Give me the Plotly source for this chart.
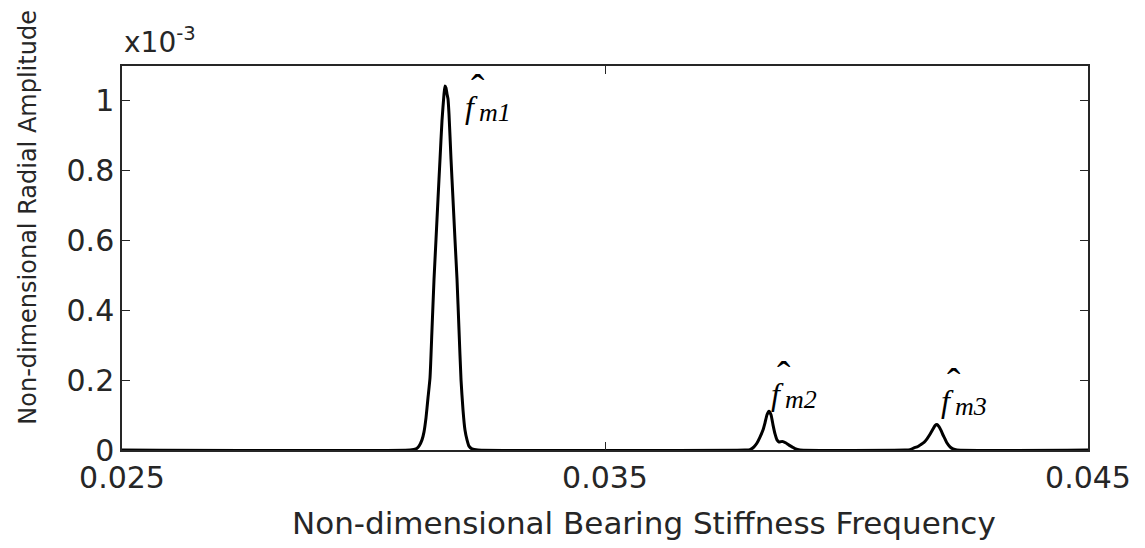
import plotly.graph_objects as go

# ---- data (x: non-dimensional frequency, y: amplitude in units of 1e-3) ----
peak1_x = [0.030963, 0.031087, 0.031149, 0.031211, 0.031253, 0.031294, 0.031335, 0.031377,
           0.031418, 0.031460, 0.031501, 0.031542, 0.031584, 0.031625, 0.031667, 0.031687,
           0.031708, 0.031729, 0.031749, 0.031770, 0.031812, 0.031853, 0.031894, 0.031936,
           0.031977, 0.032019, 0.032060, 0.032101, 0.032143, 0.032184, 0.032246, 0.032371]
peak1_y = [0.0, 0.003, 0.011, 0.029, 0.052, 0.092, 0.149, 0.207,
           0.345, 0.489, 0.603, 0.718, 0.833, 0.943, 1.020, 1.043,
           1.037, 1.020, 1.006, 0.963, 0.833, 0.718, 0.603, 0.489,
           0.345, 0.201, 0.115, 0.057, 0.029, 0.011, 0.003, 0.0]

peak2_x = [0.037899, 0.038002, 0.038085, 0.038147, 0.038209, 0.038271, 0.038313, 0.038354,
           0.038395, 0.038437, 0.038478, 0.038520, 0.038561, 0.038602, 0.038644, 0.038685,
           0.038747, 0.038810, 0.038872, 0.038934, 0.039037]
peak2_y = [0.0, 0.001, 0.009, 0.020, 0.037, 0.057, 0.078, 0.101,
           0.111, 0.101, 0.072, 0.046, 0.029, 0.023, 0.024, 0.024,
           0.020, 0.014, 0.009, 0.004, 0.0]

peak3_x = [0.041211, 0.041315, 0.041398, 0.041480, 0.041542, 0.041605, 0.041667, 0.041729,
           0.041791, 0.041832, 0.041874, 0.041915, 0.041957, 0.041998, 0.042039, 0.042081,
           0.042143, 0.042205, 0.042288]
peak3_y = [0.0, 0.001, 0.006, 0.010, 0.016, 0.022, 0.032, 0.045,
           0.060, 0.070, 0.073, 0.067, 0.056, 0.043, 0.032, 0.020,
           0.009, 0.003, 0.0]

x_start, x_end = [0.025], [0.045]

x_tickvals = [0.025, 0.035, 0.045]
x_ticktext = ["0.025", "0.035", "0.045"]
y_tickvals = [0, 0.2, 0.4, 0.6, 0.8, 1.0]
y_ticktext = ["0", "0.2", "0.4", "0.6", "0.8", "1"]

peak_labels = ["m1", "m2", "m3"]
label_x = [0.032226, 0.038561, 0.042081]
label_y = [0.982, 0.160, 0.140]

xs = x_start + peak1_x + peak2_x + peak3_x + x_end
ys = [0.0] + peak1_y + peak2_y + peak3_y + [0.0]

AX = "#262626"
SERIF = "Liberation Serif"
fig = go.Figure()
fig.add_trace(go.Scatter(x=xs, y=ys, mode="lines",
                         line=dict(color="black", width=3, shape="spline", smoothing=0.5),
                         hoverinfo="skip", showlegend=False))

for lab, lx, ly in zip(peak_labels, label_x, label_y):
    # italic f
    fig.add_annotation(x=lx, y=ly, xref="x", yref="y", showarrow=False,
                       xanchor="center", yanchor="middle", text="<i>f</i>",
                       font=dict(family=SERIF, size=32, color="black"))
    # hat above f
    fig.add_annotation(x=lx, y=ly, xref="x", yref="y", showarrow=False,
                       xanchor="center", yanchor="middle", text="\u02c6",
                       xshift=7, yshift=19,
                       font=dict(family=SERIF, size=40, color="black"))
    # subscript
    fig.add_annotation(x=lx, y=ly, xref="x", yref="y", showarrow=False,
                       xanchor="left", yanchor="middle", text="<i>" + lab + "</i>",
                       xshift=6, yshift=-5,
                       font=dict(family=SERIF, size=26, color="black"))

fig.add_annotation(x=0, y=1.012, xref="paper", yref="paper", xanchor="left", yanchor="bottom",
                   showarrow=False, text="x10<sup>-3</sup>",
                   font=dict(family="DejaVu Sans", size=28, color=AX))
fig.add_annotation(x=0.540, y=-0.19, xref="paper", yref="paper", showarrow=False,
                   xanchor="center", yanchor="middle",
                   text="Non-dimensional Bearing Stiffness Frequency",
                   font=dict(family="DejaVu Sans", size=31, color=AX))
fig.add_annotation(x=-0.0973, y=0.605, xref="paper", yref="paper", showarrow=False,
                   xanchor="center", yanchor="middle",
                   textangle=-90, text="Non-dimensional Radial Amplitude",
                   font=dict(family="DejaVu Sans", size=24, color=AX))

fig.update_layout(
    width=1145, height=548,
    margin=dict(l=114, r=65, t=58, b=106),
    paper_bgcolor="white", plot_bgcolor="white",
    font=dict(family="DejaVu Sans", size=30, color=AX),
    xaxis=dict(range=[0.025, 0.045], tickvals=x_tickvals, ticktext=x_ticktext,
               showgrid=False, zeroline=False, showline=True, linecolor=AX, linewidth=1.5,
               mirror="ticks", ticks="inside", ticklen=8, tickcolor=AX, tickwidth=1.2),
    yaxis=dict(range=[0, 1.1], tickvals=y_tickvals, ticktext=y_ticktext,
               showgrid=False, zeroline=False, showline=True, linecolor=AX, linewidth=1.5,
               mirror="ticks", ticks="inside", ticklen=8, tickcolor=AX, tickwidth=1.2),
)

fig.write_html("out.html")
